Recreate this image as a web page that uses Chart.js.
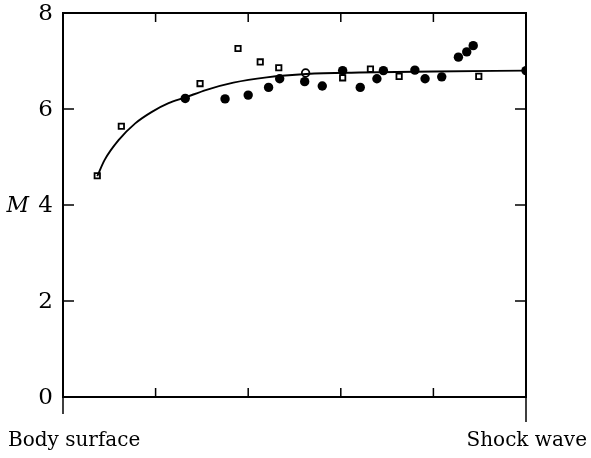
<!DOCTYPE html>
<html>
<head>
<meta charset="utf-8">
<script src="https://cdn.jsdelivr.net/npm/chart.js@4/dist/chart.umd.min.js"></script>
<style>
  html, body { margin: 0; padding: 0; background: #fff; }
  #wrap { width: 591px; height: 458px; }
</style>
</head>
<body>
<div id="wrap"><canvas id="chart"></canvas></div>
<script>
// axis labels
const endLabels = ["Body surface", "Shock wave"];
const yTicks = [0, 2, 4, 6, 8];
const xTicks = [1, 2, 3, 4];
const yName = "M";

// open squares
const sqX = [0.37, 0.63, 1.48, 1.89, 2.13, 2.33, 3.02, 3.32, 3.63, 4.49];
const sqY = [4.61, 5.64, 6.53, 7.26, 6.98, 6.86, 6.65, 6.83, 6.68, 6.68];

// filled circles
const dotX = [1.32, 1.75, 2.00, 2.22, 2.34, 2.61, 2.80, 3.02, 3.21, 3.39, 3.46, 3.80, 3.91, 4.09, 4.27, 4.36, 4.43, 5.00];
const dotY = [6.22, 6.21, 6.29, 6.45, 6.63, 6.57, 6.48, 6.80, 6.45, 6.63, 6.80, 6.81, 6.63, 6.67, 7.08, 7.19, 7.32, 6.80];

// open circle
const ringX = [2.62];
const ringY = [6.75];

// fitted curve
const curveX = [0.37, 0.45, 0.60, 0.78, 0.96, 1.14, 1.32, 1.55, 1.84, 2.20, 2.63, 3.20, 4.00, 5.00];
const curveY = [4.60, 4.94, 5.35, 5.70, 5.94, 6.12, 6.24, 6.40, 6.55, 6.66, 6.73, 6.76, 6.78, 6.80];

const pts = (xs, ys) => xs.map((x, i) => ({ x: x, y: ys[i] }));

const serif = "'DejaVu Serif', 'Liberation Serif', serif";

const frame = {
  id: 'frame',
  afterDraw(chart) {
    const ctx = chart.ctx;
    const a = chart.chartArea;
    const xs = chart.scales.x, ys = chart.scales.y;
    ctx.save();
    ctx.strokeStyle = '#000';
    ctx.lineWidth = 2;
    ctx.strokeRect(a.left, a.top, a.right - a.left, a.bottom - a.top);
    // axis extensions below
    ctx.lineWidth = 1.5;
    ctx.beginPath();
    ctx.moveTo(a.left, a.bottom); ctx.lineTo(a.left, a.bottom + 17);
    ctx.moveTo(a.right, a.bottom); ctx.lineTo(a.right, a.bottom + 25);
    // inward ticks
    yTicks.forEach(v => {
      const py = ys.getPixelForValue(v);
      ctx.moveTo(a.left, py); ctx.lineTo(a.left + 11, py);
      ctx.moveTo(a.right, py); ctx.lineTo(a.right - 11, py);
    });
    xTicks.forEach(v => {
      const px = xs.getPixelForValue(v);
      ctx.moveTo(px, a.top); ctx.lineTo(px, a.top + 9);
      ctx.moveTo(px, a.bottom); ctx.lineTo(px, a.bottom - 9);
    });
    ctx.stroke();
    // tick labels
    ctx.fillStyle = '#000';
    ctx.font = '23px ' + serif;
    ctx.textAlign = 'right';
    ctx.textBaseline = 'middle';
    yTicks.forEach(v => {
      ctx.fillText(String(v), a.left - 10, ys.getPixelForValue(v) + 1);
    });
    ctx.font = 'italic 22px ' + serif;
    ctx.fillText(yName, a.left - 34, ys.getPixelForValue(4) + 1);
    // end labels
    ctx.font = '20px ' + serif;
    ctx.textBaseline = 'alphabetic';
    ctx.textAlign = 'left';
    ctx.fillText(endLabels[0], 8, 446);
    ctx.textAlign = 'right';
    ctx.fillText(endLabels[1], 587, 446);
    ctx.restore();
  }
};

new Chart(document.getElementById('chart'), {
  type: 'scatter',
  data: {
    datasets: [
      {
        label: 'curve',
        data: pts(curveX, curveY),
        showLine: true,
        borderColor: '#000',
        borderWidth: 1.9,
        pointRadius: 0,
        cubicInterpolationMode: 'monotone',
        fill: false
      },
      {
        label: 'squares',
        data: pts(sqX, sqY),
        pointStyle: 'rect',
        pointRadius: 3.8,
        backgroundColor: '#fff',
        borderColor: '#000',
        borderWidth: 1.8
      },
      {
        label: 'dots',
        data: pts(dotX, dotY),
        pointStyle: 'circle',
        pointRadius: 4.7,
        backgroundColor: '#000',
        borderColor: '#000',
        borderWidth: 0
      },
      {
        label: 'ring',
        data: pts(ringX, ringY),
        pointStyle: 'circle',
        pointRadius: 3.8,
        backgroundColor: '#fff',
        borderColor: '#000',
        borderWidth: 1.8
      }
    ]
  },
  options: {
    responsive: true,
    maintainAspectRatio: false,
    animation: false,
    events: [],
    layout: { padding: { top: 13, right: 65, bottom: 0, left: 0 } },
    plugins: { legend: { display: false }, tooltip: { enabled: false } },
    scales: {
      x: {
        type: 'linear', min: 0, max: 5,
        grid: { display: false },
        border: { display: false },
        ticks: { display: false },
        afterFit(s) { s.height = 61; }
      },
      y: {
        min: 0, max: 8,
        grid: { display: false },
        border: { display: false },
        ticks: { display: false, stepSize: 2 },
        afterFit(s) { s.width = 63; }
      }
    }
  },
  plugins: [frame]
});
</script>
</body>
</html>
